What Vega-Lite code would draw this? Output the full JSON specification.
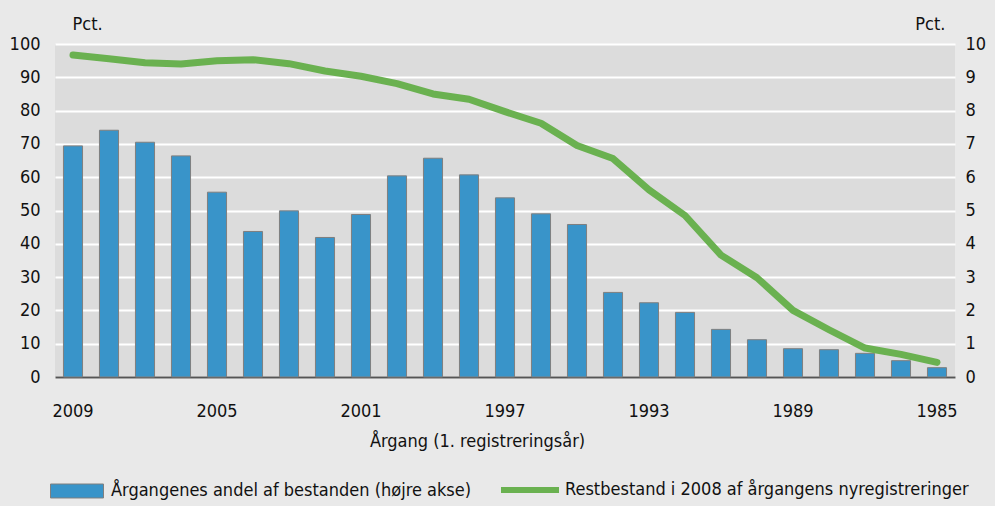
{
  "$schema": "https://vega.github.io/schema/vega-lite/v6.json",
  "width": 900,
  "height": 333,
  "autosize": {"type": "none"},
  "padding": {"left": 55, "top": 44, "right": 40, "bottom": 129},
  "background": "#e9e9e9",
  "config": {
    "view": {"fill": "#dcdcdc", "stroke": null},
    "font": "DejaVu Sans Condensed",
    "axis": {"labelColor": "#111111", "titleColor": "#111111", "labelFontSize": 18, "titleFontSize": 18, "titleFontWeight": "normal", "ticks": false},
    "legend": {"labelFontSize": 18, "labelColor": "#111111", "padding": 0, "labelLimit": 600}
  },
  "data": {
    "values": [
      {"year": 2009, "andel": 6.94, "rest": 96.7},
      {"year": 2008, "andel": 7.41, "rest": 95.6},
      {"year": 2007, "andel": 7.05, "rest": 94.4},
      {"year": 2006, "andel": 6.64, "rest": 94.0},
      {"year": 2005, "andel": 5.55, "rest": 95.0},
      {"year": 2004, "andel": 4.37, "rest": 95.3},
      {"year": 2003, "andel": 4.99, "rest": 94.1},
      {"year": 2002, "andel": 4.19, "rest": 91.9},
      {"year": 2001, "andel": 4.88, "rest": 90.3},
      {"year": 2000, "andel": 6.04, "rest": 88.1},
      {"year": 1999, "andel": 6.57, "rest": 85.0},
      {"year": 1998, "andel": 6.07, "rest": 83.4},
      {"year": 1997, "andel": 5.38, "rest": 79.7},
      {"year": 1996, "andel": 4.9, "rest": 76.2},
      {"year": 1995, "andel": 4.58, "rest": 69.5},
      {"year": 1994, "andel": 2.54, "rest": 65.6},
      {"year": 1993, "andel": 2.23, "rest": 56.2},
      {"year": 1992, "andel": 1.94, "rest": 48.5},
      {"year": 1991, "andel": 1.43, "rest": 36.6},
      {"year": 1990, "andel": 1.12, "rest": 29.8},
      {"year": 1989, "andel": 0.85, "rest": 20.0},
      {"year": 1988, "andel": 0.82, "rest": 14.2},
      {"year": 1987, "andel": 0.71, "rest": 8.7},
      {"year": 1986, "andel": 0.49, "rest": 6.8},
      {"year": 1985, "andel": 0.28, "rest": 4.4}
    ]
  },
  "encoding": {
    "x": {
      "field": "year",
      "type": "ordinal",
      "sort": "descending",
      "scale": {"paddingInner": 0.47, "paddingOuter": 0.235},
      "axis": {
        "title": "Årgang (1. registreringsår)",
        "values": [2009, 2005, 2001, 1997, 1993, 1989, 1985],
        "labelAngle": 0,
        "labelPadding": 25,
        "titlePadding": 12,
        "titleX": 422,
        "titleAlign": "center",
        "domainColor": "#555555",
        "domainWidth": 2,
        "grid": false
      }
    }
  },
  "layer": [
    {
      "mark": {"type": "bar", "stroke": "#7f7f7f", "strokeWidth": 1},
      "encoding": {
        "y": {
          "field": "andel",
          "type": "quantitative",
          "scale": {"domain": [0, 10]},
          "axis": {
            "orient": "right",
            "values": [0, 1, 2, 3, 4, 5, 6, 7, 8, 9, 10],
            "grid": false,
            "domain": false,
            "labelPadding": 10,
            "title": "Pct.",
            "titleAngle": 0,
            "titleAlign": "right",
            "titleBaseline": "alphabetic",
            "titleX": -10,
            "titleY": -15
          }
        },
        "fill": {
          "datum": "Årgangenes andel af bestanden (højre akse)",
          "type": "nominal",
          "scale": {"range": ["#3994c9"]},
          "legend": {
            "title": null,
            "orient": "none",
            "legendX": -5,
            "legendY": 420,
            "symbolType": "M-1,-0.264H1V0.264H-1Z",
            "symbolSize": 2809,
            "symbolStrokeColor": "#7f7f7f",
            "symbolStrokeWidth": 1,
            "symbolOpacity": 1,
            "labelOffset": 7
          }
        }
      }
    },
    {
      "mark": {"type": "line", "strokeWidth": 7, "strokeCap": "round", "strokeJoin": "round"},
      "encoding": {
        "y": {
          "field": "rest",
          "type": "quantitative",
          "scale": {"domain": [0, 100]},
          "axis": {
            "orient": "left",
            "values": [0, 10, 20, 30, 40, 50, 60, 70, 80, 90, 100],
            "grid": true,
            "gridColor": "#ffffff",
            "gridWidth": 2,
            "gridOpacity": 1,
            "domain": false,
            "labelPadding": 15,
            "title": "Pct.",
            "titleAngle": 0,
            "titleAlign": "left",
            "titleBaseline": "alphabetic",
            "titleX": 17,
            "titleY": -15
          }
        },
        "stroke": {
          "datum": "Restbestand i 2008 af årgangens nyregistreringer",
          "type": "nominal",
          "scale": {"range": ["#6ab150"]},
          "legend": {
            "title": null,
            "orient": "none",
            "legendX": 443,
            "legendY": 414,
            "symbolType": "stroke",
            "symbolSize": 3364,
            "symbolStrokeWidth": 6,
            "labelOffset": 3
          }
        }
      }
    }
  ],
  "resolve": {"scale": {"y": "independent", "fill": "independent", "stroke": "independent"}}
}
